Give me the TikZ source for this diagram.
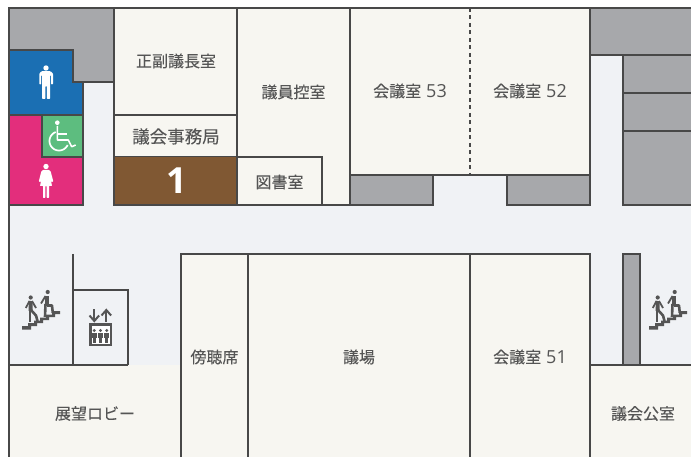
\documentclass[tikz,border=0pt]{standalone}
\usepackage{fontspec}
\setmainfont[FakeBold=0.2]{Noto Sans CJK JP}
\newfontfamily\digitfont{Open Sans}
\newcommand{\numtxt}[1]{\hspace{5pt}{\digitfont\fontsize{18}{18}\selectfont #1}}
\definecolor{floorc}{HTML}{F0F2F5}
\definecolor{roomc}{HTML}{F7F6F1}
\definecolor{greyc}{HTML}{A7A8AB}
\definecolor{bluec}{HTML}{1B6FB3}
\definecolor{pinkc}{HTML}{E32E7C}
\definecolor{greenc}{HTML}{5DBD7F}
\definecolor{brownc}{HTML}{805833}
\definecolor{linec}{HTML}{484848}
\definecolor{textc}{HTML}{555555}
\tikzset{
  wall/.style={draw=linec,line width=1.6pt,line join=miter},
  room/.style={wall,fill=roomc},
  greyroom/.style={wall,fill=greyc},
  label/.style={text=textc,font=\fontsize{16}{16}\selectfont,inner sep=0pt},
  walker/.pic={
    % stairs
    \fill[textc] (22,329.5) -- (22,326) -- (28,326) -- (28,323) -- (34,323) -- (34,320.5) -- (40,320.5) -- (40,317.5) -- (46,317.5) -- (46,314.5) -- (52,314.5) -- (52,311) -- (60,311) -- (60,314) -- (55,314) -- (55,317) -- (49,317) -- (49,320) -- (43,320) -- (43,323) -- (37,323) -- (37,326) -- (31,326) -- (31,329.5) -- cycle;
    % rear walker
    \fill[textc] (30.7,297.5) circle (2.1);
    \draw[textc,line width=3.8pt] (30.7,301) -- (30.6,311);
    \draw[textc,line width=1.8pt] (29.5,301) -- (25.8,308);
    \draw[textc,line width=1.8pt] (32,301) -- (36,308);
    \draw[textc,line width=2.6pt] (30,309) -- (30,322);
    \draw[textc,line width=2.6pt,line join=round] (31,310) -- (36,315.5) -- (37.5,321);
    % front walker
    \fill[textc] (47.7,292) circle (2.1);
    \draw[textc,line width=3.8pt] (46.8,296) -- (46.8,306);
    \draw[textc,line width=1.8pt] (45.5,296) -- (41,303.5);
    \draw[textc,line width=2.6pt] (45.5,304) -- (45,317);
    \draw[textc,line width=2.6pt,line join=round] (47,305.5) -- (52,305.5) -- (52.8,313);
  }
}
\begin{document}
\begin{tikzpicture}[x=1pt,y=-1pt]
\useasboundingbox (0,0) rectangle (691,457);
\fill[white] (0,0) rectangle (691,457);
% floor
\fill[floorc] (9,8) rectangle (691,457);
% top left
\path[greyroom] (9,8) -- (114,8) -- (114,82) -- (73,82) -- (73,50) -- (9,50) -- cycle;
\path[wall,fill=bluec] (9,50) -- (73,50) -- (73,82) -- (83,82) -- (83,115) -- (9,115) -- cycle;
\path[wall,fill=pinkc] (9,115) -- (83,115) -- (83,205) -- (9,205) -- cycle;
\path[wall,fill=greenc] (42,115) rectangle (83,157);
% rooms top
\path[room] (114,8) rectangle (237,115);
\path[room] (114,115) rectangle (237,157);
\fill[brownc] (114,156.8) rectangle (237,205);
\draw[wall] (114,156.8) -- (114,205) -- (237,205) -- (237,156.8);
\path[room] (237,8) -- (350,8) -- (350,205) -- (322,205) -- (322,157) -- (237,157) -- cycle;
\path[room] (237,157) rectangle (322,205);
\path[room] (350,8) rectangle (590,175);
\draw[draw=linec,line width=1.3pt,dash pattern=on 4pt off 3.5pt] (470,8) -- (470,175);
\path[greyroom] (350,175) rectangle (433,205);
\path[greyroom] (507,175) rectangle (590,205);
\fill[greyc] (590,8) rectangle (691,55);
\draw[wall] (691,8) -- (590,8) -- (590,55) -- (691,55);
\fill[greyc] (623,55) rectangle (691,205);
\draw[wall] (691,55) -- (623,55) -- (623,205) -- (691,205);
\draw[wall] (623,93) -- (691,93);
\draw[wall] (623,131) -- (691,131);
% rooms bottom
\fill[roomc] (9,365) rectangle (181,457);
\draw[wall] (9,365) -- (128,365);
\fill[roomc] (181,254) rectangle (590,457);
\draw[wall] (181,457) -- (181,254) -- (590,254) -- (590,457);
\draw[wall] (248,254) -- (248,457);
\draw[wall] (470,254) -- (470,457);
\fill[roomc] (590,365) rectangle (691,457);
\draw[wall] (590,365) -- (691,365);
\draw[wall] (590,365) -- (590,457);
\path[greyroom] (623,254) rectangle (640,365);
% lift shaft
\draw[wall] (73,254) -- (73,365);
\draw[wall] (73,290) -- (128,290) -- (128,365);
% outer wall
\draw[draw=linec,line width=2pt] (9,8) -- (9,457);
\draw[draw=linec,line width=2pt] (9,8) -- (691,8);
% labels
\node[label] (n1) at (176,61) {正副議長室};
\node[label,font=\fontsize{17.5}{17.5}\selectfont] (n2) at (176,136.5) {議会事務局};
\node[text=white,font=\digitfont\bfseries\fontsize{36}{36}\selectfont,inner sep=0pt] (n3) at (176.5,181) {1};
\node[label] (n4) at (293.5,92) {議員控室};
\node[label] (n5) at (279.5,182) {図書室};
\node[label] (n6) at (410,91) {会議室\numtxt{53}};
\node[label] (n7) at (530,91) {会議室\numtxt{52}};
\node[label] (n8) at (214.5,357) {傍聴席};
\node[label] (n9) at (359,357) {議場};
\node[label] (n10) at (530,357) {会議室\numtxt{51}};
\node[label] (n11) at (95,413.5) {展望ロビー};
\node[label] (n12) at (643,413.5) {議会公室};
% man
\fill[white] (46,68) circle (2.7);
\fill[white,rounded corners=0.8pt] (39.3,73.5) -- (41.5,71.2) -- (50.5,71.2) -- (53,73.5) -- (53,84.5) -- (51,84.5) -- (51,75) -- (50.2,75) -- (50.2,99) -- (46.8,99) -- (46.8,86) -- (45.4,86) -- (45.4,99) -- (42,99) -- (42,75) -- (41.2,75) -- (41.2,84.5) -- (39.3,84.5) -- cycle;
% woman
\fill[white] (46,166.5) circle (2.7);
\fill[white,rounded corners=0.5pt] (43,170) -- (49,170) -- (50.7,171.5) -- (53.3,181.5) -- (51.5,182) -- (50,176) -- (52,186) -- (49,186) -- (49,197.8) -- (46.6,197.8) -- (46.6,186) -- (45.4,186) -- (45.4,197.8) -- (43,197.8) -- (43,186) -- (40,186) -- (42,176) -- (40.5,182) -- (38.8,181.5) -- (41.3,171.5) -- cycle;
% wheelchair
\fill[white] (57.3,122.7) circle (2.3);
\draw[white,line width=1.6pt,line join=round] (57.3,126) -- (57.3,140) -- (68.3,140) -- (71.7,146.7) -- (75.7,145);
\draw[white,line width=1.3pt] (57.3,134) -- (66.7,134);
\draw[white,line width=1.7pt] plot[domain=110:335,samples=40] ({59+9.5*cos(\x)},{141-9.5*sin(\x)});
% stairs icons
\pic (st1) at (0,0) {walker};
\pic (st2) at (627,0) {walker};
% elevator icon
\draw[draw=textc,line width=2pt] (94.3,309) -- (94.3,321);
\draw[draw=textc,line width=2pt] (89.5,315.5) -- (94.3,321) -- (99.1,315.5);
\draw[draw=textc,line width=2pt] (106.3,322) -- (106.3,310);
\draw[draw=textc,line width=2pt] (101.5,315.5) -- (106.3,310) -- (111.1,315.5);
\fill[white] (90,324) rectangle (111,345.5);
\draw[draw=textc,line width=2.4pt] (90.5,324.5) rectangle (110.7,345);
\foreach \px in {94.3,100.5,106.7}{
  \fill[textc] (\px,330.5) circle (1.6);
  \fill[textc] (\px-2.6,332.5) rectangle (\px+2.6,338);
  \fill[textc] (\px-1.7,338) rectangle (\px+1.7,343);
}
\end{tikzpicture}
\end{document}
